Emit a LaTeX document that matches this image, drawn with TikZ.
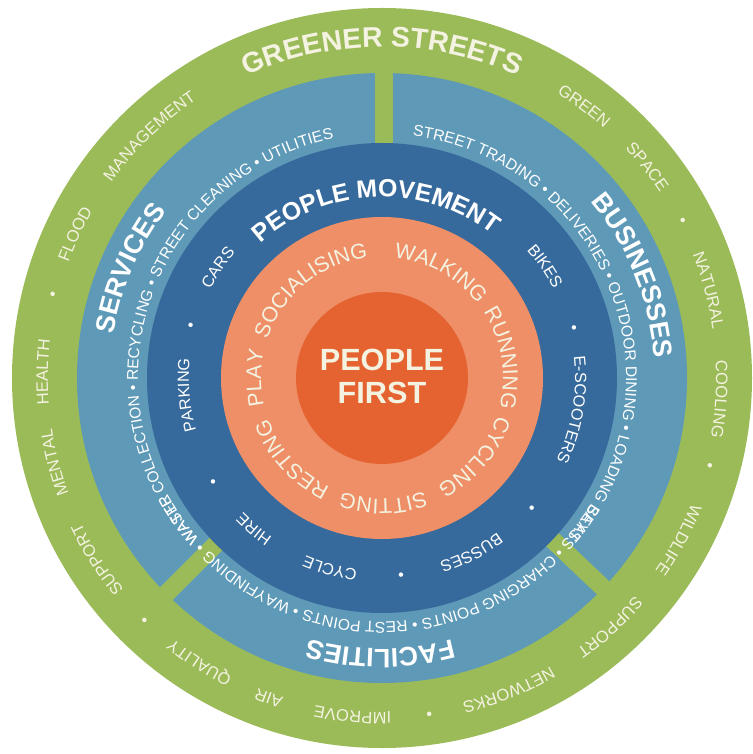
\documentclass[tikz,border=0pt]{standalone}
\usepackage{fontspec}
\setmainfont{Liberation Sans}
\usetikzlibrary{decorations.text}

\definecolor{ringgreen}{RGB}{155,187,89}
\definecolor{ringsteel}{RGB}{94,154,184}
\definecolor{ringblue}{RGB}{55,106,156}
\definecolor{ringsalmon}{RGB}{238,143,103}
\definecolor{ringorange}{RGB}{229,99,48}
\definecolor{cream}{RGB}{244,242,224}

% fonts for the ring texts
\newcommand{\greenbig}{\color{cream}\bfseries\fontsize{20.2}{24}\selectfont}
\newcommand{\greensmall}{\color{cream}\fontsize{11.8}{14}\selectfont}
\newcommand{\sectorbig}{\color{white}\bfseries\fontsize{19}{22}\selectfont}
\newcommand{\sectorsmall}{\color{white}\fontsize{11.1}{13}\selectfont}
\newcommand{\movebig}{\color{white}\bfseries\fontsize{17.7}{21}\selectfont}
\newcommand{\movesmall}{\color{white}\fontsize{11.5}{14}\selectfont}
\newcommand{\activity}{\color{cream}\fontsize{15.2}{18}\selectfont}

% word centred on an angle, clockwise, tops outwards
\newcommand{\ringword}[4]{%
  \path[decorate,decoration={text along path,text align=center,text={|#3|#4}}]
    ({#2+70}:#1) arc[start angle={#2+70},end angle={#2-70},radius=#1];}
% run of text starting at an angle, clockwise
\newcommand{\ringrun}[4]{%
  \path[decorate,decoration={text along path,text align=left,text={|#3|#4}}]
    (#2:#1) arc[start angle=#2,end angle={#2-135},radius=#1];}

\tikzset{
  sectorgap/.style={ringgreen,line width=0.45cm},
  core/.style={text=cream,font=\bfseries\fontsize{21.8}{23.5}\selectfont,align=center}
}

\begin{document}
\begin{tikzpicture}[x=0.025cm,y=0.025cm]
  \useasboundingbox (-382,-376) rectangle (370,378);
  % rings, outside in
  \fill[ringgreen]  (0,0) circle[radius=370];
  \fill[ringsteel]  (0,0) circle[radius=305];
  \draw[sectorgap] (2,228) -- (2,320);
  \draw[sectorgap] (225:228) -- (225:320);
  \draw[sectorgap] (-43.5:228) -- (-43.5:320);
  \fill[ringblue]   (0,0) circle[radius=235];
  \fill[ringsalmon] (0,0) circle[radius=161];
  \fill[ringorange] (0,0) circle[radius=86];
  \node[core] (first) at (0,1.5) {PEOPLE\\FIRST};

  % greener streets
  \ringword{331}{90}{\greenbig}{GREENER STREETS}
  \ringword{334}{53.4}{\greensmall}{GREEN}
  \ringword{334}{38.5}{\greensmall}{SPACE}
  \ringword{334}{27.6}{\greensmall}{•}
  \ringword{334}{15}{\greensmall}{NATURAL}
  \ringword{334}{-3.6}{\greensmall}{COOLING}
  \ringword{334}{-15}{\greensmall}{•}
  \ringword{334}{-28.6}{\greensmall}{WILDLIFE}
  \ringword{334}{-47.6}{\greensmall}{SUPPORT}
  \ringword{334}{-67.9}{\greensmall}{NETWORKS}
  \ringword{334}{-82}{\greensmall}{•}
  \ringword{334}{-95}{\greensmall}{IMPROVE}
  \ringword{334}{-109.5}{\greensmall}{AIR}
  \ringword{334}{-122.7}{\greensmall}{QUALITY}
  \ringword{334}{-134.4}{\greensmall}{•}
  \ringword{334}{-147.5}{\greensmall}{SUPPORT}
  \ringword{334}{-165.5}{\greensmall}{MENTAL}
  \ringword{334}{-181}{\greensmall}{HEALTH}
  \ringword{334}{165.8}{\greensmall}{•}
  \ringword{334}{154.9}{\greensmall}{FLOOD}
  \ringword{334}{133.9}{\greensmall}{MANAGEMENT}

  % services, businesses, facilities
  \ringword{272}{156.5}{\sectorbig}{SERVICES}
  \ringword{273}{22.2}{\sectorbig}{BUSINESSES}
  \ringword{271}{-90.4}{\sectorbig}{FACILITIES}
  \ringrun{244}{221.5}{\sectorsmall}{WASTE COLLECTION • RECYCLING • STREET CLEANING • UTILITIES}
  \ringrun{244}{82.8}{\sectorsmall}{STREET TRADING • DELIVERIES • OUTDOOR DINING • LOADING BAYS}
  \ringrun{244}{-31}{\sectorsmall}{SEATS • CHARGING POINTS • REST POINTS • WAYFINDING • WATER}

  % people movement
  \ringword{181}{92.2}{\movebig}{PEOPLE MOVEMENT}
  \ringword{193}{34.4}{\movesmall}{BIKES}
  \ringword{193}{14.7}{\movesmall}{•}
  \ringword{193}{-9.4}{\movesmall}{E-SCOOTERS}
  \ringword{193}{-41}{\movesmall}{•}
  \ringword{193}{-63}{\movesmall}{BUSSES}
  \ringword{193}{-84.5}{\movesmall}{•}
  \ringword{193}{-105.3}{\movesmall}{CYCLE}
  \ringword{193}{-130.3}{\movesmall}{HIRE}
  \ringword{193}{-148.4}{\movesmall}{•}
  \ringword{193}{-175}{\movesmall}{PARKING}
  \ringword{193}{164.7}{\movesmall}{•}
  \ringword{193}{146.1}{\movesmall}{CARS}

  % activities
  \ringword{121}{129}{\activity}{SOCIALISING}
  \ringword{121}{61}{\activity}{WALKING}
  \ringword{121}{9.5}{\activity}{RUNNING}
  \ringword{121}{-40.5}{\activity}{CYCLING}
  \ringword{121}{-89.5}{\activity}{SITTING}
  \ringword{121}{-138}{\activity}{RESTING}
  \ringword{121}{-180}{\activity}{PLAY}
\end{tikzpicture}
\end{document}
